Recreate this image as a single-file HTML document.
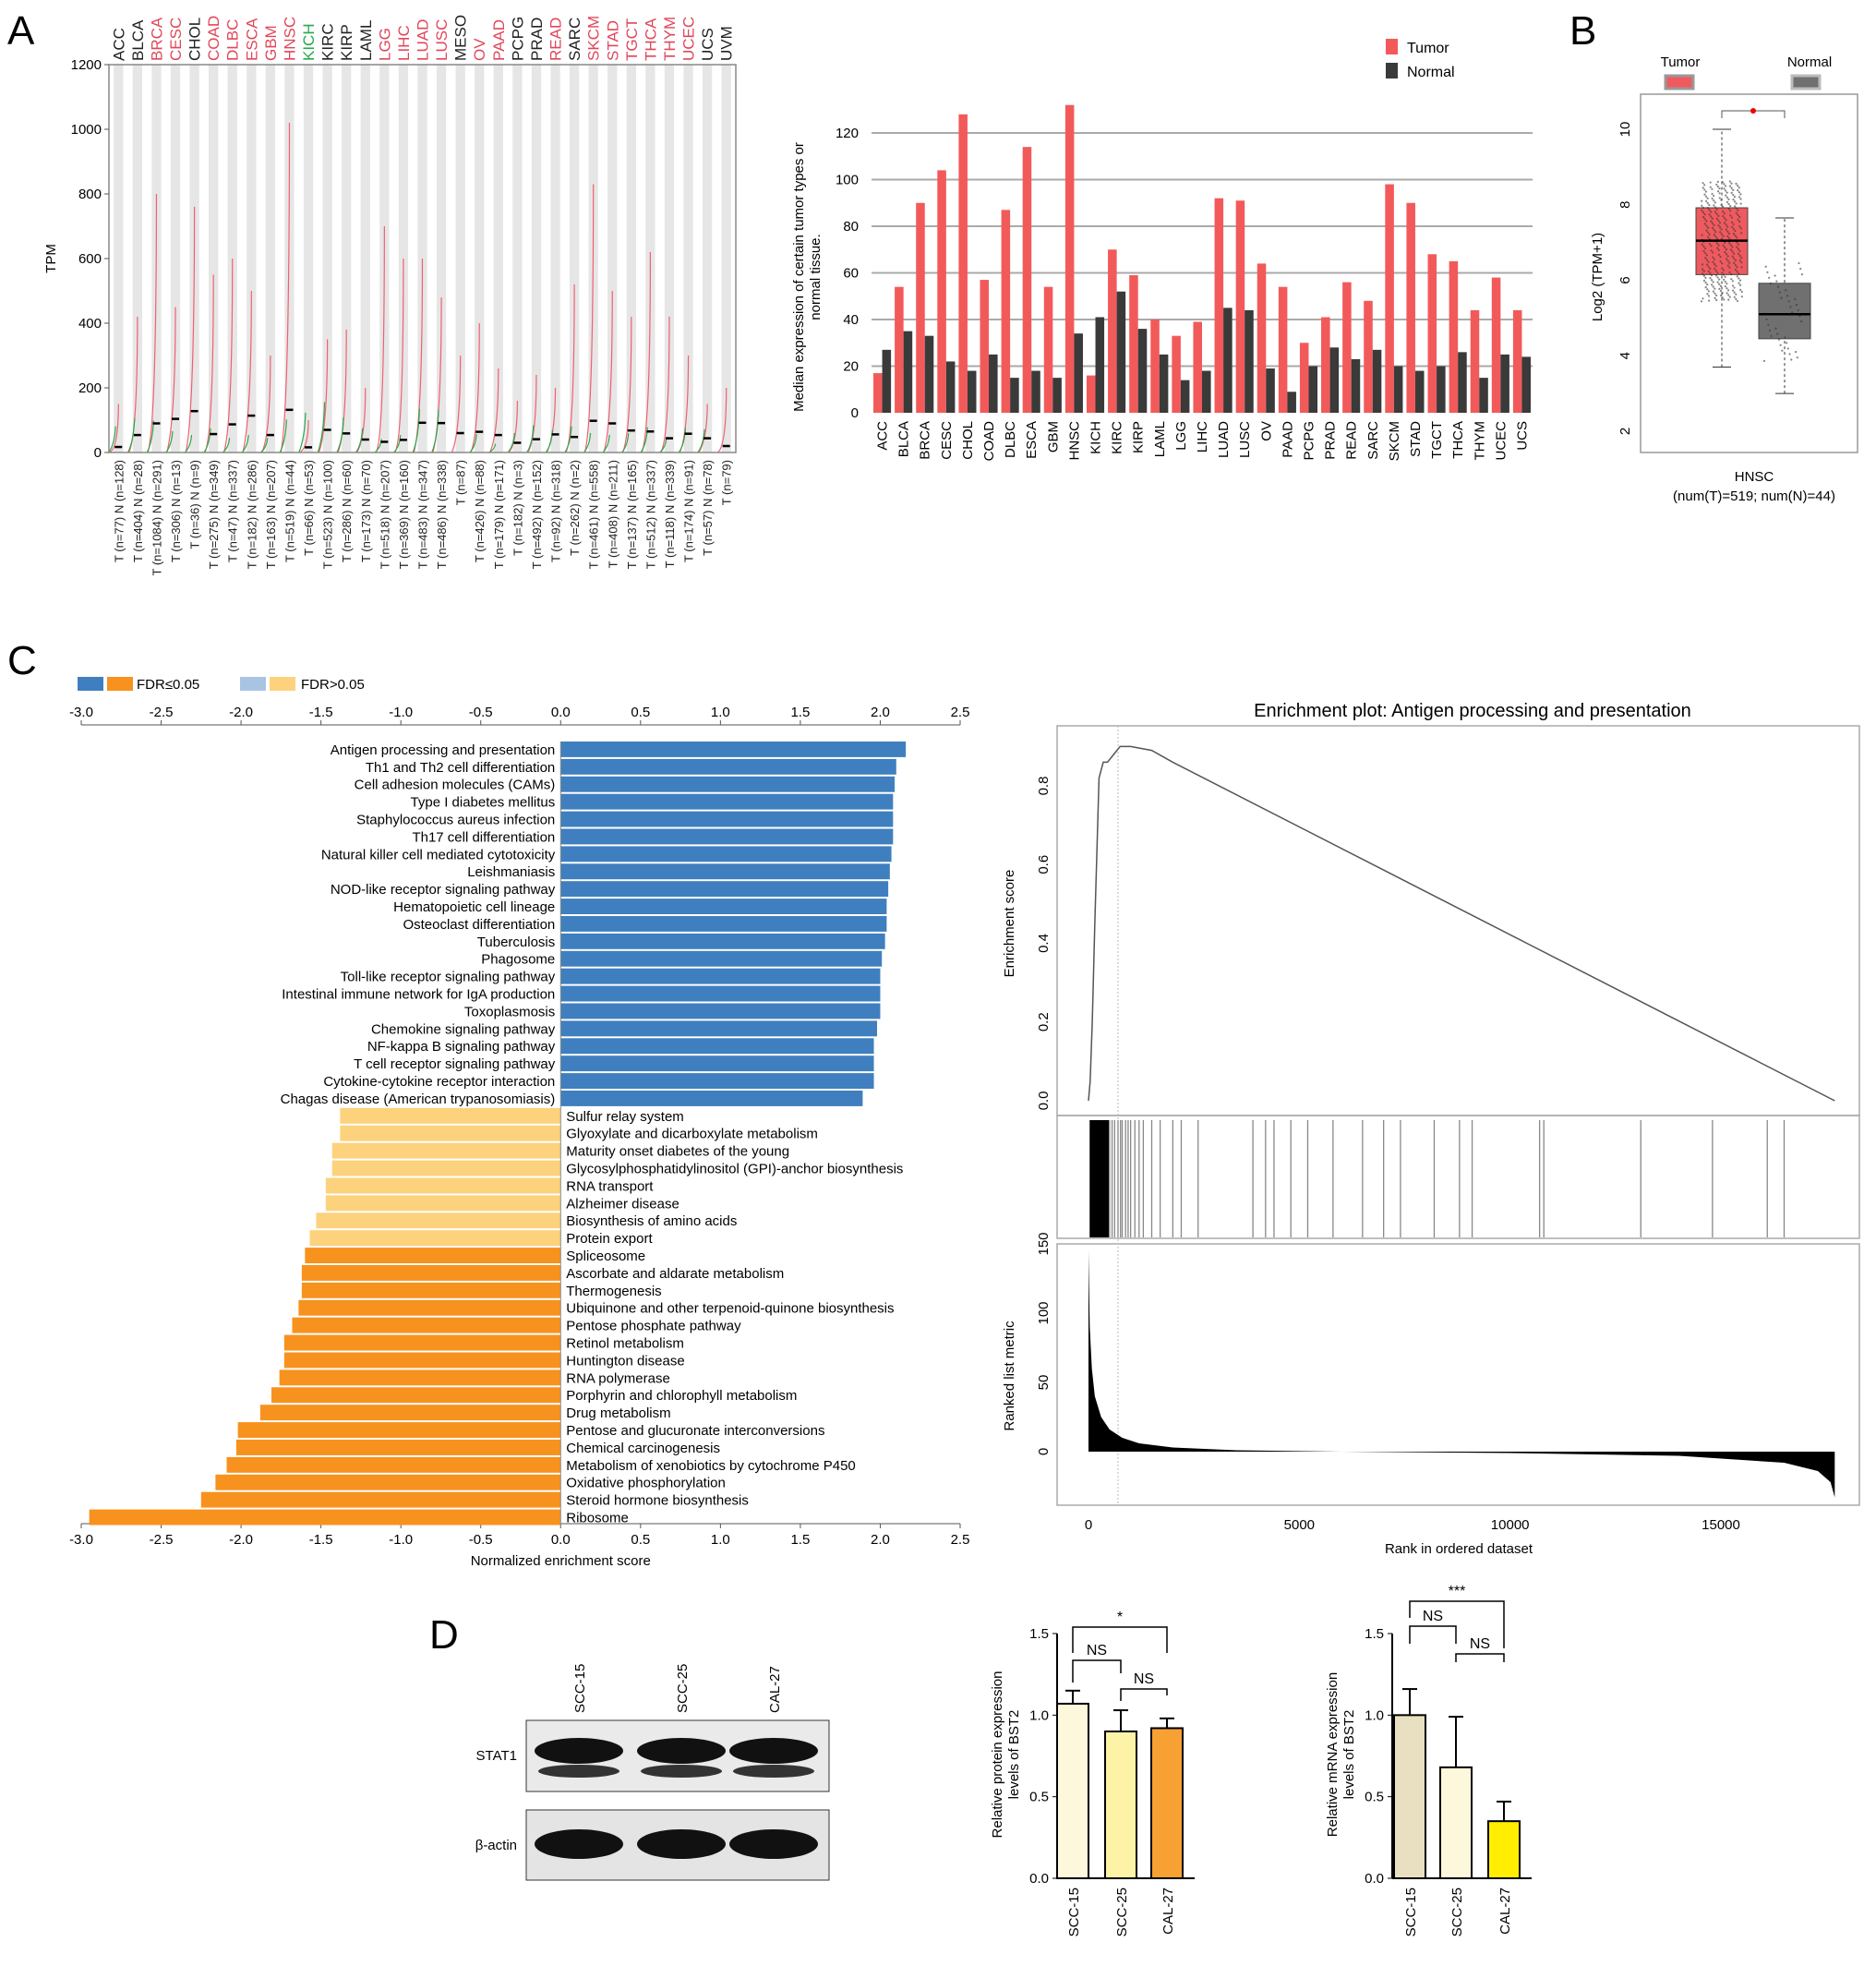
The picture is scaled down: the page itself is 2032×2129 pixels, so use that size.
<!DOCTYPE html>
<html><head><meta charset="utf-8"><style>
body{margin:0;background:#fff}
svg{display:block;font-family:"Liberation Sans",Arial,sans-serif}
</style></head><body>
<svg id="fig" width="2032" height="2129" viewBox="0 0 2032 2129" xmlns="http://www.w3.org/2000/svg">
<text x="8" y="48" font-size="44">A</text>
<text x="1700" y="48" font-size="44">B</text>
<text x="8" y="730" font-size="44">C</text>
<text x="465" y="1785" font-size="44">D</text>
<g id="gA"></g><g id="gBar"></g><g id="gB"></g><g id="gC"></g><g id="gE"></g><g id="gD"></g>
</svg>
<script>
// ---------- data ----------
const dotTypes=["ACC","BLCA","BRCA","CESC","CHOL","COAD","DLBC","ESCA","GBM","HNSC","KICH","KIRC","KIRP","LAML","LGG","LIHC","LUAD","LUSC","MESO","OV","PAAD","PCPG","PRAD","READ","SARC","SKCM","STAD","TGCT","THCA","THYM","UCEC","UCS","UVM"];
const dotColors=["k","k","r","r","k","r","r","r","r","r","g","k","k","k","r","r","r","r","k","r","r","k","k","r","k","r","r","r","r","r","r","k","k"];
const dotNLabels=["T (n=77) N (n=128)","T (n=404) N (n=28)","T (n=1084) N (n=291)","T (n=306) N (n=13)","T (n=36) N (n=9)","T (n=275) N (n=349)","T (n=47) N (n=337)","T (n=182) N (n=286)","T (n=163) N (n=207)","T (n=519) N (n=44)","T (n=66) N (n=53)","T (n=523) N (n=100)","T (n=286) N (n=60)","T (n=173) N (n=70)","T (n=518) N (n=207)","T (n=369) N (n=160)","T (n=483) N (n=347)","T (n=486) N (n=338)","T (n=87)","T (n=426) N (n=88)","T (n=179) N (n=171)","T (n=182) N (n=3)","T (n=492) N (n=152)","T (n=92) N (n=318)","T (n=262) N (n=2)","T (n=461) N (n=558)","T (n=408) N (n=211)","T (n=137) N (n=165)","T (n=512) N (n=337)","T (n=118) N (n=339)","T (n=174) N (n=91)","T (n=57) N (n=78)","T (n=79)"];
const dotMedT=[17,54,90,104,128,57,87,114,54,132,16,70,59,40,33,39,92,91,60,64,54,30,41,56,48,98,90,68,65,44,58,44,20];
const dotMedN=[27,35,33,22,18,25,15,18,15,34,41,52,36,25,14,18,45,44,0,19,9,20,28,23,27,20,18,20,26,15,25,24,0];
const dotMaxT=[150,420,800,450,760,550,600,500,300,1020,100,350,380,200,700,600,600,480,300,400,260,160,240,200,520,830,500,420,620,420,300,150,200];

const barCats=["ACC","BLCA","BRCA","CESC","CHOL","COAD","DLBC","ESCA","GBM","HNSC","KICH","KIRC","KIRP","LAML","LGG","LIHC","LUAD","LUSC","OV","PAAD","PCPG","PRAD","READ","SARC","SKCM","STAD","TGCT","THCA","THYM","UCEC","UCS"];
const barTumor=[17,54,90,104,128,57,87,114,54,132,16,70,59,40,33,39,92,91,64,54,30,41,56,48,98,90,68,65,44,58,44];
const barNormal=[27,35,33,22,18,25,15,18,15,34,41,52,36,25,14,18,45,44,19,9,20,28,23,27,20,18,20,26,15,25,24];
const barTicks=[0,20,40,60,80,100,120];

const boxTumor={min:3.7,q1:6.15,med:7.05,q3:7.92,max:10.0};
const boxNormal={min:3.0,q1:4.45,med:5.1,q3:5.92,max:7.65};
const boxTicks=[2,4,6,8,10];

const gseaNames=["Antigen processing and presentation","Th1 and Th2 cell differentiation","Cell adhesion molecules (CAMs)","Type I diabetes mellitus","Staphylococcus aureus infection","Th17 cell differentiation","Natural killer cell mediated cytotoxicity","Leishmaniasis","NOD-like receptor signaling pathway","Hematopoietic cell lineage","Osteoclast differentiation","Tuberculosis","Phagosome","Toll-like receptor signaling pathway","Intestinal immune network for IgA production","Toxoplasmosis","Chemokine signaling pathway","NF-kappa B signaling pathway","T cell receptor signaling pathway","Cytokine-cytokine receptor interaction","Chagas disease (American trypanosomiasis)","Sulfur relay system","Glyoxylate and dicarboxylate metabolism","Maturity onset diabetes of the young","Glycosylphosphatidylinositol (GPI)-anchor biosynthesis","RNA transport","Alzheimer disease","Biosynthesis of amino acids","Protein export","Spliceosome","Ascorbate and aldarate metabolism","Thermogenesis","Ubiquinone and other terpenoid-quinone biosynthesis","Pentose phosphate pathway","Retinol metabolism","Huntington disease","RNA polymerase","Porphyrin and chlorophyll metabolism","Drug metabolism","Pentose and glucuronate interconversions","Chemical carcinogenesis","Metabolism of xenobiotics by cytochrome P450","Oxidative phosphorylation","Steroid hormone biosynthesis","Ribosome"];
const gseaNES=[2.16,2.10,2.09,2.08,2.08,2.08,2.07,2.06,2.05,2.04,2.04,2.03,2.01,2.0,2.0,2.0,1.98,1.96,1.96,1.96,1.89,-1.38,-1.38,-1.43,-1.43,-1.47,-1.47,-1.53,-1.57,-1.6,-1.62,-1.62,-1.64,-1.68,-1.73,-1.73,-1.76,-1.81,-1.88,-2.02,-2.03,-2.09,-2.16,-2.25,-2.95];
const gseaSig=[1,1,1,1,1,1,1,1,1,1,1,1,1,1,1,1,1,1,1,1,1,0,0,0,0,0,0,0,0,1,1,1,1,1,1,1,1,1,1,1,1,1,1,1,1];
const nesTicks=[-3.0,-2.5,-2.0,-1.5,-1.0,-0.5,0.0,0.5,1.0,1.5,2.0,2.5];

const esRank=[0,40,90,150,250,350,450,600,750,1000,1500,2000,17700];
const esScore=[0.0,0.05,0.2,0.45,0.82,0.86,0.86,0.88,0.90,0.90,0.89,0.86,0.0];
const esTicks=[0.0,0.2,0.4,0.6,0.8];
const hitRanks=[60,80,100,120,140,160,180,200,230,260,300,350,400,450,500,560,620,700,760,800,880,940,1000,1100,1200,1300,1500,1700,2000,2200,2600,3900,4200,4400,4800,5200,5800,6500,7000,7400,8200,8800,9100,10700,10800,13100,14800,16100,16500];
const metricRank=[0,30,80,150,300,500,800,1200,2000,3500,6000,10000,14000,16500,17300,17600,17700];
const metricVal=[145,90,60,40,25,16,10,6,3,1,0,-1,-3,-8,-14,-22,-33];
const metricTicks=[0,50,100,150];
const rankTicks=[0,5000,10000,15000];

const dCells=["SCC-15","SCC-25","CAL-27"];
const protVal=[1.07,0.90,0.92], protErr=[0.08,0.13,0.06];
const mrnaVal=[1.0,0.68,0.35], mrnaErr=[0.16,0.31,0.12];
const dTicks=[0,0.5,1.0,1.5];

// ---------- helpers ----------
const NS="http://www.w3.org/2000/svg";
function mk(parent,tag,attrs,txt){const e=document.createElementNS(NS,tag);for(const k in attrs)e.setAttribute(k,attrs[k]);if(txt!==undefined)e.textContent=txt;parent.appendChild(e);return e;}
const lin=(d0,d1,r0,r1)=>v=>r0+(v-d0)/(d1-d0)*(r1-r0);

// ---------- Panel A dot plot ----------
(function(){
const g=document.getElementById('gA');
const x0=118,x1=797,yT=lin(0,1200,490,70);
const n=dotTypes.length,w=(x1-x0)/n;
const col={k:"#222",r:"#e0475a",g:"#2aa84a"};
for(let i=0;i<n;i++){
 const cx=x0+w*(i+0.5);
 let b=mk(g,'rect',{x:x0+w*i+w*0.25,y:70,width:w*0.5,height:420,fill:"#e6e6e6"});
 
 const p=mk(g,'path',{d:`M${cx-w*0.45},${yT(0)} Q${cx},${yT(dotMedT[i])} ${cx},${yT(dotMaxT[i])}`,stroke:"#f06070",fill:"none","stroke-width":1.2});
 
 if(dotMedN[i]>0){const q=mk(g,'path',{d:`M${cx-w*0.5},${yT(0)} Q${cx-w*0.2},${yT(dotMedN[i])} ${cx-w*0.15},${yT(dotMedN[i]*3)}`,stroke:"#2aa84a",fill:"none","stroke-width":1.2});
 }
 const m=mk(g,'line',{x1:cx-4,x2:cx+4,y1:yT(dotMedT[i]),y2:yT(dotMedT[i]),stroke:"#000","stroke-width":2.5});
 
 const t=mk(g,'text',{x:0,y:0,transform:`translate(${cx+6},66) rotate(-90)`,"font-size":17,fill:col[dotColors[i]]},dotTypes[i]);
 
 const l=mk(g,'text',{x:0,y:0,transform:`translate(${cx+5},498) rotate(-90)`,"font-size":13,"text-anchor":"end",fill:"#222"},dotNLabels[i]);
 
}
mk(g,'rect',{x:x0,y:70,width:x1-x0,height:420,fill:"none",stroke:"#888","stroke-width":1.5});
for(let v=0;v<=1200;v+=200){const y=yT(v);mk(g,'line',{x1:x0-5,x2:x0,y1:y,y2:y,stroke:"#555"});
 const t=mk(g,'text',{x:x0-8,y:y+5,"font-size":15,"text-anchor":"end"},v);}
const yl=mk(g,'text',{x:0,y:0,transform:"translate(60,280) rotate(-90)","font-size":15,"text-anchor":"middle"},"TPM");

})();

// ---------- Panel A bar chart ----------
(function(){
const g=document.getElementById('gBar');
const x0=944,x1=1660,y=lin(0,120,447,144);
const n=barCats.length,w=(x1-x0)/n;
barTicks.forEach(v=>{const yy=y(v);
 if(v>0)mk(g,'line',{x1:x0,x2:x1,y1:yy,y2:yy,stroke:"#aaa","stroke-width":2});
 const t=mk(g,'text',{x:x0-14,y:yy+5,"font-size":15,"text-anchor":"end"},v);});
for(let i=0;i<n;i++){const bx=x0+w*i+2,bw=(w-4)/2;
 const a=mk(g,'rect',{x:bx,y:y(barTumor[i]),width:bw,height:y(0)-y(barTumor[i]),fill:"#f25a5a"});
 
 const b=mk(g,'rect',{x:bx+bw,y:y(barNormal[i]),width:bw,height:y(0)-y(barNormal[i]),fill:"#3a3a3a"});
 
 const t=mk(g,'text',{x:0,y:0,transform:`translate(${bx+bw+5},456) rotate(-90)`,"font-size":15,"text-anchor":"end"},barCats[i]);
 }
const yt=mk(g,'text',{x:0,y:0,transform:"translate(870,300) rotate(-90)","font-size":15,"text-anchor":"middle"});

mk(yt,'tspan',{x:0,dy:0},"Median expression of certain tumor types or");mk(yt,'tspan',{x:0,dy:18},"normal tissue.");
const lg=mk(g,'g',{});
mk(lg,'rect',{x:1501,y:42,width:13,height:17,fill:"#f25a5a"});mk(lg,'text',{x:1524,y:57,"font-size":16},"Tumor");
mk(lg,'rect',{x:1501,y:68,width:13,height:17,fill:"#3a3a3a"});mk(lg,'text',{x:1524,y:83,"font-size":16},"Normal");
})();

// ---------- Panel B box plot ----------
(function(){
const g=document.getElementById('gB');
const x0=1777,x1=2012,y=lin(2,10,467,140);
mk(g,'rect',{x:x0,y:102,width:x1-x0,height:388,fill:"#fff",stroke:"#999","stroke-width":1.5});
boxTicks.forEach(v=>{const t=mk(g,'text',{x:0,y:0,transform:`translate(1765,${y(v)}) rotate(-90)`,"font-size":15,"text-anchor":"middle"},v);});
const yl=mk(g,'text',{x:0,y:0,transform:"translate(1735,300) rotate(-90)","font-size":15,"text-anchor":"middle"},"Log2 (TPM+1)");

function box(b,cx,fill,name,jit){const gg=mk(g,'g',{});
 mk(gg,'line',{x1:cx,x2:cx,y1:y(b.min),y2:y(b.max),stroke:"#333","stroke-dasharray":"3,3"});
 mk(gg,'line',{x1:cx-10,x2:cx+10,y1:y(b.min),y2:y(b.min),stroke:"#333"});mk(gg,'line',{x1:cx-10,x2:cx+10,y1:y(b.max),y2:y(b.max),stroke:"#333"});
 mk(gg,'rect',{x:cx-28,y:y(b.q3),width:56,height:y(b.q1)-y(b.q3),fill:fill,stroke:"#444"});
 // decorative jitter overlay
 const n=jit;for(let k=0;k<n;k++){const f=(k*0.6180339)%1,h=(k*0.7548776)%1;
  const v=b.q1+(b.q3-b.q1)*(1.8*f-0.4);mk(gg,'circle',{cx:cx-22+44*h,cy:y(v),r:1.1,fill:"#333","fill-opacity":0.6});}
 mk(gg,'line',{x1:cx-28,x2:cx+28,y1:y(b.med),y2:y(b.med),stroke:"#000","stroke-width":2.5});}
box(boxTumor,1865,"#ef5a5f","box-tumor",300);box(boxNormal,1933,"#707070","box-normal",40);
mk(g,'path',{d:"M1865,128 V120 H1933 V128",fill:"none",stroke:"#555"});mk(g,'circle',{cx:1899,cy:120,r:3,fill:"#e00"});
const lt=mk(g,'text',{x:1820,y:72,"font-size":15,"text-anchor":"middle"},"Tumor");
const ln=mk(g,'text',{x:1960,y:72,"font-size":15,"text-anchor":"middle"},"Normal");
mk(g,'rect',{x:1804,y:82,width:30,height:14,fill:"#ef5a5f",stroke:"#999","stroke-width":3});mk(g,'rect',{x:1941,y:82,width:30,height:14,fill:"#707070",stroke:"#bbb","stroke-width":3});
mk(g,'text',{x:1900,y:521,"font-size":15,"text-anchor":"middle"},"HNSC");mk(g,'text',{x:1900,y:542,"font-size":15,"text-anchor":"middle"},"(num(T)=519; num(N)=44)");
})();

// ---------- Panel C GSEA bars ----------
(function(){
const g=document.getElementById('gC');
const x=lin(-3,2.5,88,1040),rowTop=803,rowH=18.9;
const lg=mk(g,'g',{});
mk(lg,'rect',{x:84,y:733,width:28,height:15,fill:"#3f7fbf"});mk(lg,'rect',{x:116,y:733,width:28,height:15,fill:"#f7921e"});
mk(lg,'text',{x:148,y:746,"font-size":15},"FDR≤0.05");
mk(lg,'rect',{x:260,y:733,width:28,height:15,fill:"#a9c3e3"});mk(lg,'text',{x:326,y:746,"font-size":15},"FDR>0.05");
mk(lg,'rect',{x:292,y:733,width:28,height:15,fill:"#fcd27c"});
[785,1650].forEach((ay,k)=>{mk(g,'line',{x1:x(-3),x2:x(2.5),y1:ay,y2:ay,stroke:"#555"});
 nesTicks.forEach(v=>{mk(g,'line',{x1:x(v),x2:x(v),y1:ay,y2:k?ay+5:ay-5,stroke:"#555"});
 const t=mk(g,'text',{x:x(v),y:k?ay+22:ay-9,"font-size":15,"text-anchor":"middle"},v.toFixed(1));});});
gseaNames.forEach((nm,i)=>{const v=gseaNES[i],yy=rowTop+i*rowH;
 const fill=v>0?(gseaSig[i]?"#3f7fbf":"#a9c3e3"):(gseaSig[i]?"#f7921e":"#fcd27c");
 const r=mk(g,'rect',{x:Math.min(x(0),x(v)),y:yy,width:Math.abs(x(v)-x(0)),height:rowH-2,fill:fill});
 
 const t=mk(g,'text',{x:v>0?x(0)-6:x(0)+6,y:yy+rowH-5,"font-size":15,"text-anchor":v>0?"end":"start"},nm);
 });
mk(g,'line',{x1:x(0),x2:x(0),y1:rowTop,y2:rowTop+gseaNames.length*rowH,stroke:"#888"});
const xt=mk(g,'text',{x:x(0),y:1695,"font-size":15,"text-anchor":"middle"},"Normalized enrichment score");
})();

// ---------- Enrichment plot ----------
(function(){
const g=document.getElementById('gE');
const X0=1145,X1=2014,xr=lin(0,15000,1179,1864),ye=lin(0,0.8,1192,851),ym=lin(0,150,1572,1347);
const tt=mk(g,'text',{x:1595,y:776,"font-size":20,"text-anchor":"middle"},"Enrichment plot: Antigen processing and presentation");

mk(g,'rect',{x:X0,y:786,width:X1-X0,height:422,fill:"none",stroke:"#aaa","stroke-width":1.5});
mk(g,'rect',{x:X0,y:1208,width:X1-X0,height:133,fill:"none",stroke:"#aaa","stroke-width":1.5});
mk(g,'rect',{x:X0,y:1347,width:X1-X0,height:283,fill:"none",stroke:"#aaa","stroke-width":1.5});
mk(g,'line',{x1:xr(700),x2:xr(700),y1:786,y2:1630,stroke:"#bbb","stroke-dasharray":"2,2"});
esTicks.forEach(v=>{const t=mk(g,'text',{x:0,y:0,transform:`translate(1135,${ye(v)}) rotate(-90)`,"font-size":15,"text-anchor":"middle"},v.toFixed(1));});
mk(g,'text',{x:0,y:0,transform:"translate(1098,1000) rotate(-90)","font-size":15,"text-anchor":"middle"},"Enrichment score");
const es=mk(g,'polyline',{points:esRank.map((r,i)=>xr(r)+","+ye(esScore[i])).join(" "),fill:"none",stroke:"#555","stroke-width":1.5});

hitRanks.forEach(r=>{const l=mk(g,'line',{x1:xr(r),x2:xr(r),y1:1213,y2:1340,stroke:r<500?"#000":"#888","stroke-width":r<500?3:1.3});});
const pts=metricRank.map((r,i)=>xr(r)+","+ym(metricVal[i]));
const ar=mk(g,'polygon',{points:xr(0)+","+ym(0)+" "+pts.join(" ")+" "+xr(17700)+","+ym(0),fill:"#000"});

metricTicks.forEach(v=>{const t=mk(g,'text',{x:0,y:0,transform:`translate(1135,${ym(v)}) rotate(-90)`,"font-size":15,"text-anchor":"middle"},v);});
mk(g,'text',{x:0,y:0,transform:"translate(1098,1490) rotate(-90)","font-size":15,"text-anchor":"middle"},"Ranked list metric");
rankTicks.forEach(v=>{const t=mk(g,'text',{x:xr(v),y:1656,"font-size":15,"text-anchor":"middle"},v);});
mk(g,'text',{x:1580,y:1682,"font-size":15,"text-anchor":"middle"},"Rank in ordered dataset");
})();

// ---------- Panel D ----------
(function(){
const g=document.getElementById('gD');
const bl=mk(g,'g',{});
mk(bl,'rect',{x:570,y:1863,width:328,height:77,fill:"#eaeaea",stroke:"#333"});
mk(bl,'rect',{x:570,y:1960,width:328,height:76,fill:"#e4e4e4",stroke:"#333"});
[627,738,838].forEach((cx,i)=>{mk(bl,'ellipse',{cx:cx,cy:1896,rx:48,ry:14,fill:"#111"});mk(bl,'ellipse',{cx:cx,cy:1918,rx:44,ry:7,fill:"#333"});
 mk(bl,'ellipse',{cx:cx,cy:1997,rx:48,ry:16,fill:"#111"});
 mk(bl,'text',{x:0,y:0,transform:`translate(${cx+6},1855) rotate(-90)`,"font-size":15},dCells[i]);});
mk(bl,'text',{x:560,y:1906,"font-size":15,"text-anchor":"end"},"STAT1");mk(bl,'text',{x:560,y:2003,"font-size":15,"text-anchor":"end"},"β-actin");
function chart(ax,vals,errs,cols,centers,title,name){
 const y=lin(0,1.5,2034,1769);const cg=mk(g,'g',{});
 mk(cg,'line',{x1:ax,x2:ax,y1:y(0),y2:y(1.5),stroke:"#000","stroke-width":2});
 mk(cg,'line',{x1:ax,x2:centers[2]+30,y1:y(0),y2:y(0),stroke:"#000","stroke-width":2});
 dTicks.forEach(v=>{mk(cg,'line',{x1:ax-5,x2:ax,y1:y(v),y2:y(v),stroke:"#000"});mk(cg,'text',{x:ax-9,y:y(v)+5,"font-size":15,"text-anchor":"end"},v.toFixed(1));});
 vals.forEach((v,i)=>{const c=centers[i];
  const r=mk(cg,'rect',{x:c-17,y:y(v),width:34,height:y(0)-y(v),fill:cols[i],stroke:"#000","stroke-width":2});
  
  mk(cg,'line',{x1:c,x2:c,y1:y(v),y2:y(v+errs[i]),stroke:"#000","stroke-width":2});
  mk(cg,'line',{x1:c-8,x2:c+8,y1:y(v+errs[i]),y2:y(v+errs[i]),stroke:"#000","stroke-width":2});
  mk(cg,'text',{x:0,y:0,transform:`translate(${c+6},2044) rotate(-90)`,"font-size":15,"text-anchor":"end"},dCells[i]);});
 const t=mk(cg,'text',{x:0,y:0,transform:`translate(${ax-60},1900) rotate(-90)`,"font-size":15,"text-anchor":"middle"});
 mk(t,'tspan',{x:0,dy:0},title);mk(t,'tspan',{x:0,dy:18},"levels of BST2");
 return y;}
chart(1145,protVal,protErr,["#fdf7dc","#fdf3a6","#f7a033"],[1162,1214,1264],"Relative protein expression","protein-chart");
chart(1508,mrnaVal,mrnaErr,["#e8e0c0","#fdf8dc","#ffee00"],[1527,1577,1629],"Relative mRNA expression","mrna-chart");
function br(x1,x2,yy,yb1,yb2,lab){mk(g,'path',{d:`M${x1},${yb1} V${yy} H${x2} V${yb2}`,fill:"none",stroke:"#000","stroke-width":1.5});
 const t=mk(g,'text',{x:(x1+x2)/2,y:yy-6,"font-size":16,"text-anchor":"middle"},lab);}
br(1162,1214,1798,1822,1812,"NS");br(1214,1264,1829,1842,1836,"NS");br(1162,1264,1762,1790,1790,"*");
br(1527,1577,1761,1780,1780,"NS");br(1577,1629,1791,1800,1800,"NS");br(1527,1629,1734,1752,1785,"***");
})();
</script>
</body></html>
